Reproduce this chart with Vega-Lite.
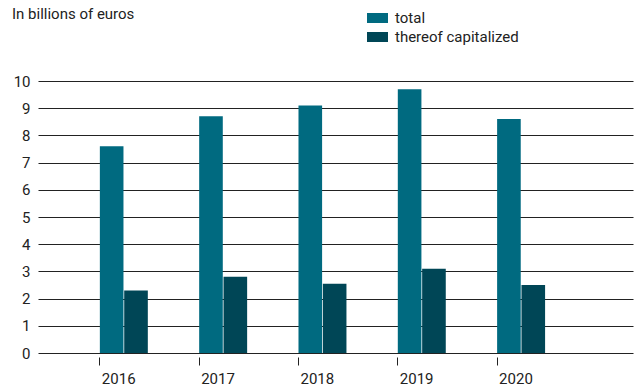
{
  "$schema": "https://vega.github.io/schema/vega-lite/v6.json",
  "width": 595,
  "height": 272,
  "autosize": "none",
  "padding": {"left": 38, "top": 81, "right": 9, "bottom": 37},
  "background": "white",
  "config": {
    "font": "Roboto",
    "view": {"stroke": null}
  },
  "title": {
    "text": "In billions of euros",
    "anchor": "start",
    "frame": "group",
    "dx": -26,
    "offset": 0,
    "dy": 14,
    "fontSize": 15,
    "fontWeight": "normal",
    "color": "#222222"
  },
  "data": {
    "values": [
      {"year": "2016", "series": "total", "value": 7.6},
      {"year": "2016", "series": "thereof capitalized", "value": 2.3},
      {"year": "2017", "series": "total", "value": 8.7},
      {"year": "2017", "series": "thereof capitalized", "value": 2.8},
      {"year": "2018", "series": "total", "value": 9.1},
      {"year": "2018", "series": "thereof capitalized", "value": 2.55},
      {"year": "2019", "series": "total", "value": 9.7},
      {"year": "2019", "series": "thereof capitalized", "value": 3.1},
      {"year": "2020", "series": "total", "value": 8.6},
      {"year": "2020", "series": "thereof capitalized", "value": 2.5}
    ]
  },
  "mark": {"type": "bar"},
  "encoding": {
    "x": {
      "field": "year",
      "type": "nominal",
      "scale": {"paddingInner": 0.517, "paddingOuter": 0.754, "align": 0.413},
      "axis": {
        "title": null,
        "bandPosition": 0,
        "domain": false,
        "grid": false,
        "offset": 4,
        "tickSize": 8,
        "tickColor": "#222222",
        "tickWidth": 1,
        "labelAngle": 0,
        "labelAlign": "left",
        "labelBaseline": "top",
        "labelOffset": -22,
        "labelPadding": 6,
        "labelFontSize": 15,
        "labelColor": "#222222",
        "labelFlush": false,
        "labelOverlap": false,
        "labelBound": false
      }
    },
    "xOffset": {
      "field": "series",
      "type": "nominal",
      "sort": ["total", "thereof capitalized"],
      "scale": {"paddingInner": 0.03, "paddingOuter": 0}
    },
    "y": {
      "field": "value",
      "type": "quantitative",
      "scale": {"domain": [0, 10], "nice": false},
      "axis": {
        "title": null,
        "values": [0, 1, 2, 3, 4, 5, 6, 7, 8, 9, 10],
        "domain": false,
        "ticks": false,
        "grid": true,
        "gridColor": "#222222",
        "gridWidth": 1.2,
        "gridOpacity": 1,
        "labelPadding": 8,
        "labelFontSize": 15,
        "labelColor": "#222222"
      }
    },
    "color": {
      "field": "series",
      "type": "nominal",
      "scale": {
        "domain": ["total", "thereof capitalized"],
        "range": ["#006a80", "#004656"]
      },
      "legend": {
        "title": null,
        "orient": "none",
        "legendX": 329,
        "legendY": -73.5,
        "symbolType": "M-1,-0.476H1V0.476H-1Z",
        "symbolSize": 441,
        "symbolStrokeWidth": 0,
        "symbolOpacity": 1,
        "labelFontSize": 15,
        "labelColor": "#222222",
        "labelOffset": 7,
        "rowPadding": 0
      }
    }
  }
}
